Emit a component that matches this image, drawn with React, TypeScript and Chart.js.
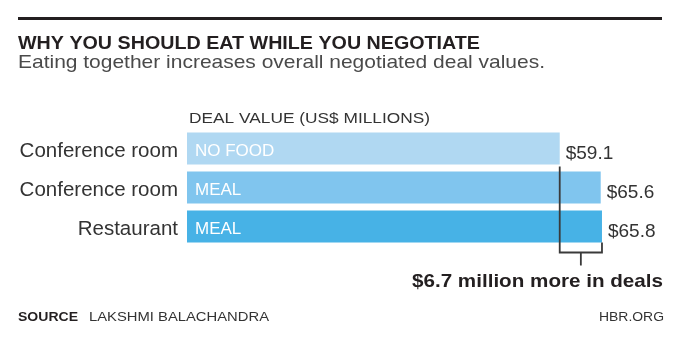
import React, { useEffect, useRef } from "react";
import { Chart, registerables } from "chart.js";

Chart.register(...registerables);

const categories = ["Conference room", "Conference room", "Restaurant"];
const conditions = ["NO FOOD", "MEAL", "MEAL"];
const values = [59.1, 65.6, 65.8];
const barColors = ["#b0d8f2", "#80c5ee", "#47b2e6"];

const TITLE = "WHY YOU SHOULD EAT WHILE YOU NEGOTIATE";
const SUBTITLE = "Eating together increases overall negotiated deal values.";
const AXIS_TITLE = "DEAL VALUE (US$ MILLIONS)";
const SOURCE_LABEL = "SOURCE";
const SOURCE_TEXT = "LAKSHMI BALACHANDRA";
const CREDIT = "HBR.ORG";

const FONT = "'Liberation Sans', Arial, sans-serif";

function fitText(
  ctx: CanvasRenderingContext2D,
  s: string,
  x: number,
  y: number,
  font: string,
  color: string,
  width: number | null,
  align: CanvasTextAlign = "left"
) {
  ctx.save();
  ctx.font = font;
  ctx.fillStyle = color;
  ctx.textAlign = align;
  ctx.textBaseline = "alphabetic";
  const m = ctx.measureText(s).width;
  const sx = width ? width / m : 1;
  ctx.translate(x, y);
  ctx.scale(sx, 1);
  ctx.fillText(s, 0, 0);
  ctx.restore();
}

const decorPlugin = {
  id: "decor",
  afterDatasetsDraw(chart: any) {
    const ctx: CanvasRenderingContext2D = chart.ctx;
    const xs = chart.scales.x;
    const meta = chart.getDatasetMeta(0);
    const dark = "#231f20";

    // top rule
    ctx.save();
    ctx.fillStyle = dark;
    ctx.fillRect(18, 17, 644, 3);
    ctx.restore();

    fitText(ctx, TITLE, 18, 49, `bold 17.5px ${FONT}`, dark, 462);
    fitText(ctx, SUBTITLE, 18, 68, `18.5px ${FONT}`, "#4a4a4a", 527);
    fitText(ctx, AXIS_TITLE, 189, 123, `15px ${FONT}`, "#333333", 241);

    meta.data.forEach((bar: any, i: number) => {
      const cy = bar.y;
      fitText(ctx, categories[i], 178, cy + 8.5, `20.5px ${FONT}`, "#333333", null, "right");
      fitText(ctx, conditions[i], 195, cy + 7.5, `17px ${FONT}`, "#ffffff", null, "left");
      fitText(ctx, "$" + values[i].toFixed(1), bar.x + 6, cy + 10, `19px ${FONT}`, "#333333", null, "left");
    });

    // bracket
    const x1 = xs.getPixelForValue(values[0]);
    const x2 = xs.getPixelForValue(values[values.length - 1]);
    const b0 = meta.data[0];
    const bL = meta.data[meta.data.length - 1];
    const top = b0.y + b0.height / 2 + 2;
    const lastBottom = bL.y + bL.height / 2;
    const by = lastBottom + 10;
    ctx.save();
    ctx.strokeStyle = "#3a3a3a";
    ctx.lineWidth = 1.8;
    ctx.beginPath();
    ctx.moveTo(x1, top);
    ctx.lineTo(x1, by);
    ctx.lineTo(x2, by);
    ctx.lineTo(x2, lastBottom);
    ctx.moveTo((x1 + x2) / 2, by);
    ctx.lineTo((x1 + x2) / 2, by + 13);
    ctx.stroke();
    ctx.restore();

    const diff = values[values.length - 1] - values[0];
    fitText(ctx, `$${diff.toFixed(1)} million more in deals`, 663, 287, `bold 18.5px ${FONT}`, dark, 251, "right");

    fitText(ctx, SOURCE_LABEL, 18, 321, `bold 13px ${FONT}`, dark, 60);
    fitText(ctx, SOURCE_TEXT, 89, 321, `13px ${FONT}`, "#333333", 180);
    fitText(ctx, CREDIT, 664, 321, `13px ${FONT}`, "#333333", 65, "right");
  },
};

export default function App() {
  const ref = useRef<HTMLCanvasElement | null>(null);
  useEffect(() => {
    document.body.style.margin = "0";
    const canvas = ref.current;
    if (!canvas) return;
    const chart = new Chart(canvas, {
      type: "bar",
      data: {
        labels: categories,
        datasets: [
          {
            data: values,
            backgroundColor: barColors,
            borderWidth: 0,
            barPercentage: 0.82,
            categoryPercentage: 1,
          },
        ],
      },
      options: {
        indexAxis: "y",
        responsive: false,
        animation: false,
        layout: { padding: { left: 187, right: 40, top: 129, bottom: 112 } },
        scales: {
          x: { display: false, min: 0, max: 75 },
          y: { display: false },
        },
        plugins: {
          legend: { display: false },
          tooltip: { enabled: false },
        },
      },
      plugins: [decorPlugin],
    } as any);
    return () => chart.destroy();
  }, []);
  return (
    <div style={{ width: 700, height: 358, background: "#ffffff" }}>
      <canvas ref={ref} width={700} height={358} style={{ display: "block" }} />
    </div>
  );
}
